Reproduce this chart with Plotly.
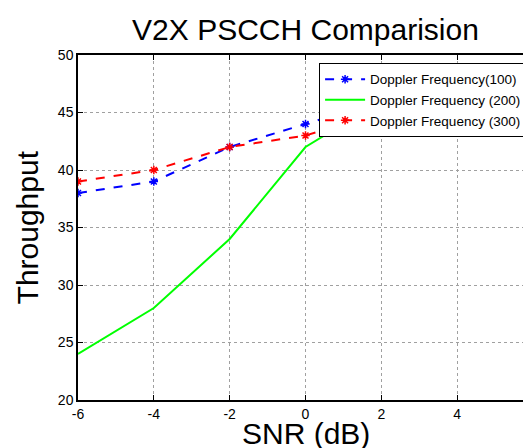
import plotly.graph_objects as go

snr = [-6, -4, -2, 0, 2, 4, 6]
doppler_100 = [38, 39, 42, 44, 46, 47, 48]
doppler_200 = [24, 28, 34, 42, 46, 48, 48]
doppler_300 = [39, 40, 42, 43, 45, 45, 45]
x_ticks = [-6, -4, -2, 0, 2, 4, 6]
x_tick_text = ["-6", "-4", "-2", "0", "2", "4", "6"]
y_ticks = [20, 25, 30, 35, 40, 45, 50]

fig = go.Figure()
fig.add_trace(go.Scatter(x=snr, y=doppler_100, mode="lines+markers",
                         name="Doppler Frequency(100)",
                         line=dict(color="#0000ff", width=2, dash="dash"),
                         marker=dict(symbol="asterisk-open", size=7,
                                     line=dict(color="#0000ff", width=1.5))))
fig.add_trace(go.Scatter(x=snr, y=doppler_200, mode="lines",
                         name="Doppler Frequency (200)",
                         line=dict(color="#00ff00", width=2)))
fig.add_trace(go.Scatter(x=snr, y=doppler_300, mode="lines+markers",
                         name="Doppler Frequency (300)",
                         line=dict(color="#ff0000", width=2, dash="dash"),
                         marker=dict(symbol="asterisk-open", size=7,
                                     line=dict(color="#ff0000", width=1.5))))

axis_common = dict(showline=True, linecolor="black", linewidth=1.5, mirror="ticks",
                   ticks="inside", ticklen=5, tickcolor="black",
                   showgrid=True, gridcolor="#a0a0a0", griddash="dot", gridwidth=1,
                   zeroline=False, tickfont=dict(size=14, color="black"))

fig.update_xaxes(range=[-6, 6], tickvals=x_ticks, ticktext=x_tick_text,
                 ticklabeloverflow="allow", **axis_common)
fig.update_yaxes(range=[20, 50], tickvals=y_ticks, **axis_common)

fig.add_annotation(text="SNR (dB)", xref="paper", yref="paper", x=0.5, y=-0.097,
                   xanchor="center", yanchor="middle", showarrow=False,
                   font=dict(size=30, color="black"))
fig.add_annotation(text="Throughput", xref="paper", yref="paper", x=-0.110, y=0.5,
                   xanchor="center", yanchor="middle", textangle=-90, showarrow=False,
                   font=dict(size=30, color="black"))

fig.update_layout(
    width=531, height=448,
    margin=dict(l=70, r=2, t=47, b=56),
    paper_bgcolor="white", plot_bgcolor="white",
    font=dict(family="Liberation Sans, Arial, sans-serif", color="black"),
    title=dict(text="V2X PSCCH Comparision", xref="paper", x=0.5, xanchor="center",
               y=0.953, yanchor="middle", font=dict(size=30, color="black")),
    legend=dict(x=0.987, y=0.977, xanchor="right", yanchor="top",
                bgcolor="white", bordercolor="black", borderwidth=1,
                font=dict(size=13.5, color="black"), tracegroupgap=0,
                itemwidth=40),
    showlegend=True,
)

fig.write_html("out.html")
